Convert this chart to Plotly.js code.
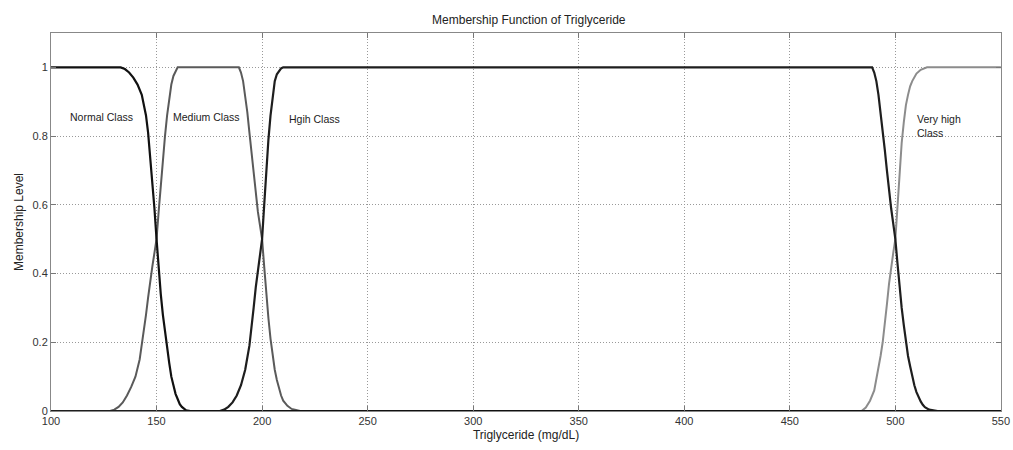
<!DOCTYPE html>
<html>
<head>
<meta charset="utf-8">
<script src="https://cdn.plot.ly/plotly-3.0.1.min.js"></script>
<style>html,body{margin:0;padding:0;background:#fff;}#chart{width:1013px;height:450px;}</style>
</head>
<body>
<div id="chart"></div>
<script>
// Normal Class (falls around 150)
const normalX = [100,133,135,137,139,141,143,145,146,147,148,149,150,151,152,153,154,155,156,157,158,159,160,161,162,163,164,166,550];
const normalY = [1,1,0.995,0.985,0.97,0.95,0.92,0.86,0.81,0.74,0.67,0.59,0.5,0.41,0.34,0.28,0.23,0.18,0.14,0.1,0.07,0.05,0.035,0.02,0.012,0.006,0.002,0,0];
// Medium Class (rises around 150, falls around 200)
const mediumX = [100,128,130,132,134,136,138,140,142,143,144,145,146,147,148,149,150,151,152,153,154,155,156,157,158,159,160,189,190,191,192,193,194,195,196,197,198,199,200,201,202,203,204,205,206,207,208,209,210,212,214,216,218,550];
const mediumY = [0,0,0.004,0.012,0.025,0.045,0.07,0.1,0.15,0.19,0.23,0.28,0.33,0.38,0.42,0.46,0.5,0.58,0.66,0.73,0.8,0.86,0.91,0.95,0.975,0.99,1,1,0.985,0.96,0.92,0.87,0.81,0.75,0.69,0.63,0.58,0.54,0.5,0.42,0.34,0.27,0.21,0.16,0.12,0.09,0.065,0.045,0.03,0.015,0.006,0.002,0,0];
// High Class (rises around 200, falls around 500)
const highX = [100,180,182,184,186,188,190,192,194,195,196,197,198,199,200,201,202,203,204,205,206,207,208,209,210,489,490,491,492,493,494,495,496,497,498,499,500,501,502,503,504,505,506,507,508,509,510,511,512,513,514,516,518,520,550];
const highY = [0,0,0.004,0.012,0.025,0.045,0.075,0.12,0.19,0.24,0.3,0.36,0.41,0.46,0.5,0.6,0.7,0.79,0.86,0.92,0.96,0.98,0.99,0.997,1,1,0.985,0.96,0.92,0.87,0.82,0.76,0.7,0.64,0.59,0.545,0.5,0.43,0.36,0.3,0.25,0.2,0.16,0.13,0.1,0.075,0.055,0.04,0.028,0.018,0.011,0.004,0.001,0,0];
// Very high Class (rises around 500)
const veryHighX = [100,484,486,488,490,492,493,494,495,496,497,498,499,500,501,502,503,504,505,506,507,508,509,510,512,514,515,550];
const veryHighY = [0,0,0.01,0.03,0.06,0.12,0.16,0.2,0.25,0.31,0.37,0.42,0.46,0.5,0.6,0.7,0.78,0.84,0.89,0.92,0.945,0.96,0.972,0.982,0.993,0.998,1,1];

const xTicks = [100,150,200,250,300,350,400,450,500,550];
const yTicks = [0,0.2,0.4,0.6,0.8,1];

const labels = [
  {text:'Normal Class', x:108, y:0.855},
  {text:'Medium Class', x:157, y:0.855},
  {text:'Hgih Class', x:212, y:0.85},
  {text:'Very high<br>Class', x:509.5, y:0.83}
];

function tr(x, y, color, w) {
  return {x:x, y:y, type:'scatter', mode:'lines', line:{color:color, width:w, shape:'linear'}, hoverinfo:'skip', showlegend:false};
}

const data = [
  tr(mediumX, mediumY, '#5a5a5a', 2),
  tr(veryHighX, veryHighY, '#8c8c8c', 2),
  tr(highX, highY, '#1e1e1e', 2.2),
  tr(normalX, normalY, '#111111', 2.2)
];

const font = {family:'Liberation Sans, Arial, sans-serif', size:11, color:'#222'};

const layout = {
  width:1013, height:450,
  margin:{l:51, r:12, t:33, b:39},
  paper_bgcolor:'#fff', plot_bgcolor:'#fff',
  font:font,
  title:{text:'Membership Function of Triglyceride', font:{family:'Liberation Sans, Arial, sans-serif', size:12, color:'#222'}, x:0.522, xanchor:'center', y:0.955, yanchor:'middle'},
  xaxis:{
    range:[100,550.05], tickvals:xTicks, ticktext:xTicks.map(String),
    ticklabeloverflow:'allow',
    ticks:'inside', ticklen:5, tickcolor:'#777', mirror:'ticks',
    showline:true, linecolor:'#888', linewidth:1,
    showgrid:true, gridcolor:'#999', griddash:'1px,2px', gridwidth:1,
    zeroline:false, tickfont:{size:11, color:'#333'},
    title:{text:'Triglyceride (mg/dL)', font:{size:12, color:'#222'}, standoff:4}
  },
  yaxis:{
    range:[0,1.1], tickvals:yTicks, ticktext:['0','0.2','0.4','0.6','0.8','1'],
    ticks:'inside', ticklen:5, tickcolor:'#777', mirror:'ticks',
    showline:true, linecolor:'#888', linewidth:1,
    showgrid:true, gridcolor:'#999', griddash:'1px,2px', gridwidth:1,
    zeroline:false, tickfont:{size:11, color:'#333'},
    title:{text:'Membership Level', font:{size:12, color:'#222'}, standoff:6}
  },
  annotations: labels.map(l => ({
    x:l.x, y:l.y, xref:'x', yref:'y', text:l.text, showarrow:false,
    xanchor:'left', yanchor:'middle', align:'left',
    font:{family:'Liberation Sans, Arial, sans-serif', size:10.5, color:'#222'}
  }))
};

Plotly.newPlot('chart', data, layout, {displayModeBar:false, staticPlot:true});
</script>
</body>
</html>
